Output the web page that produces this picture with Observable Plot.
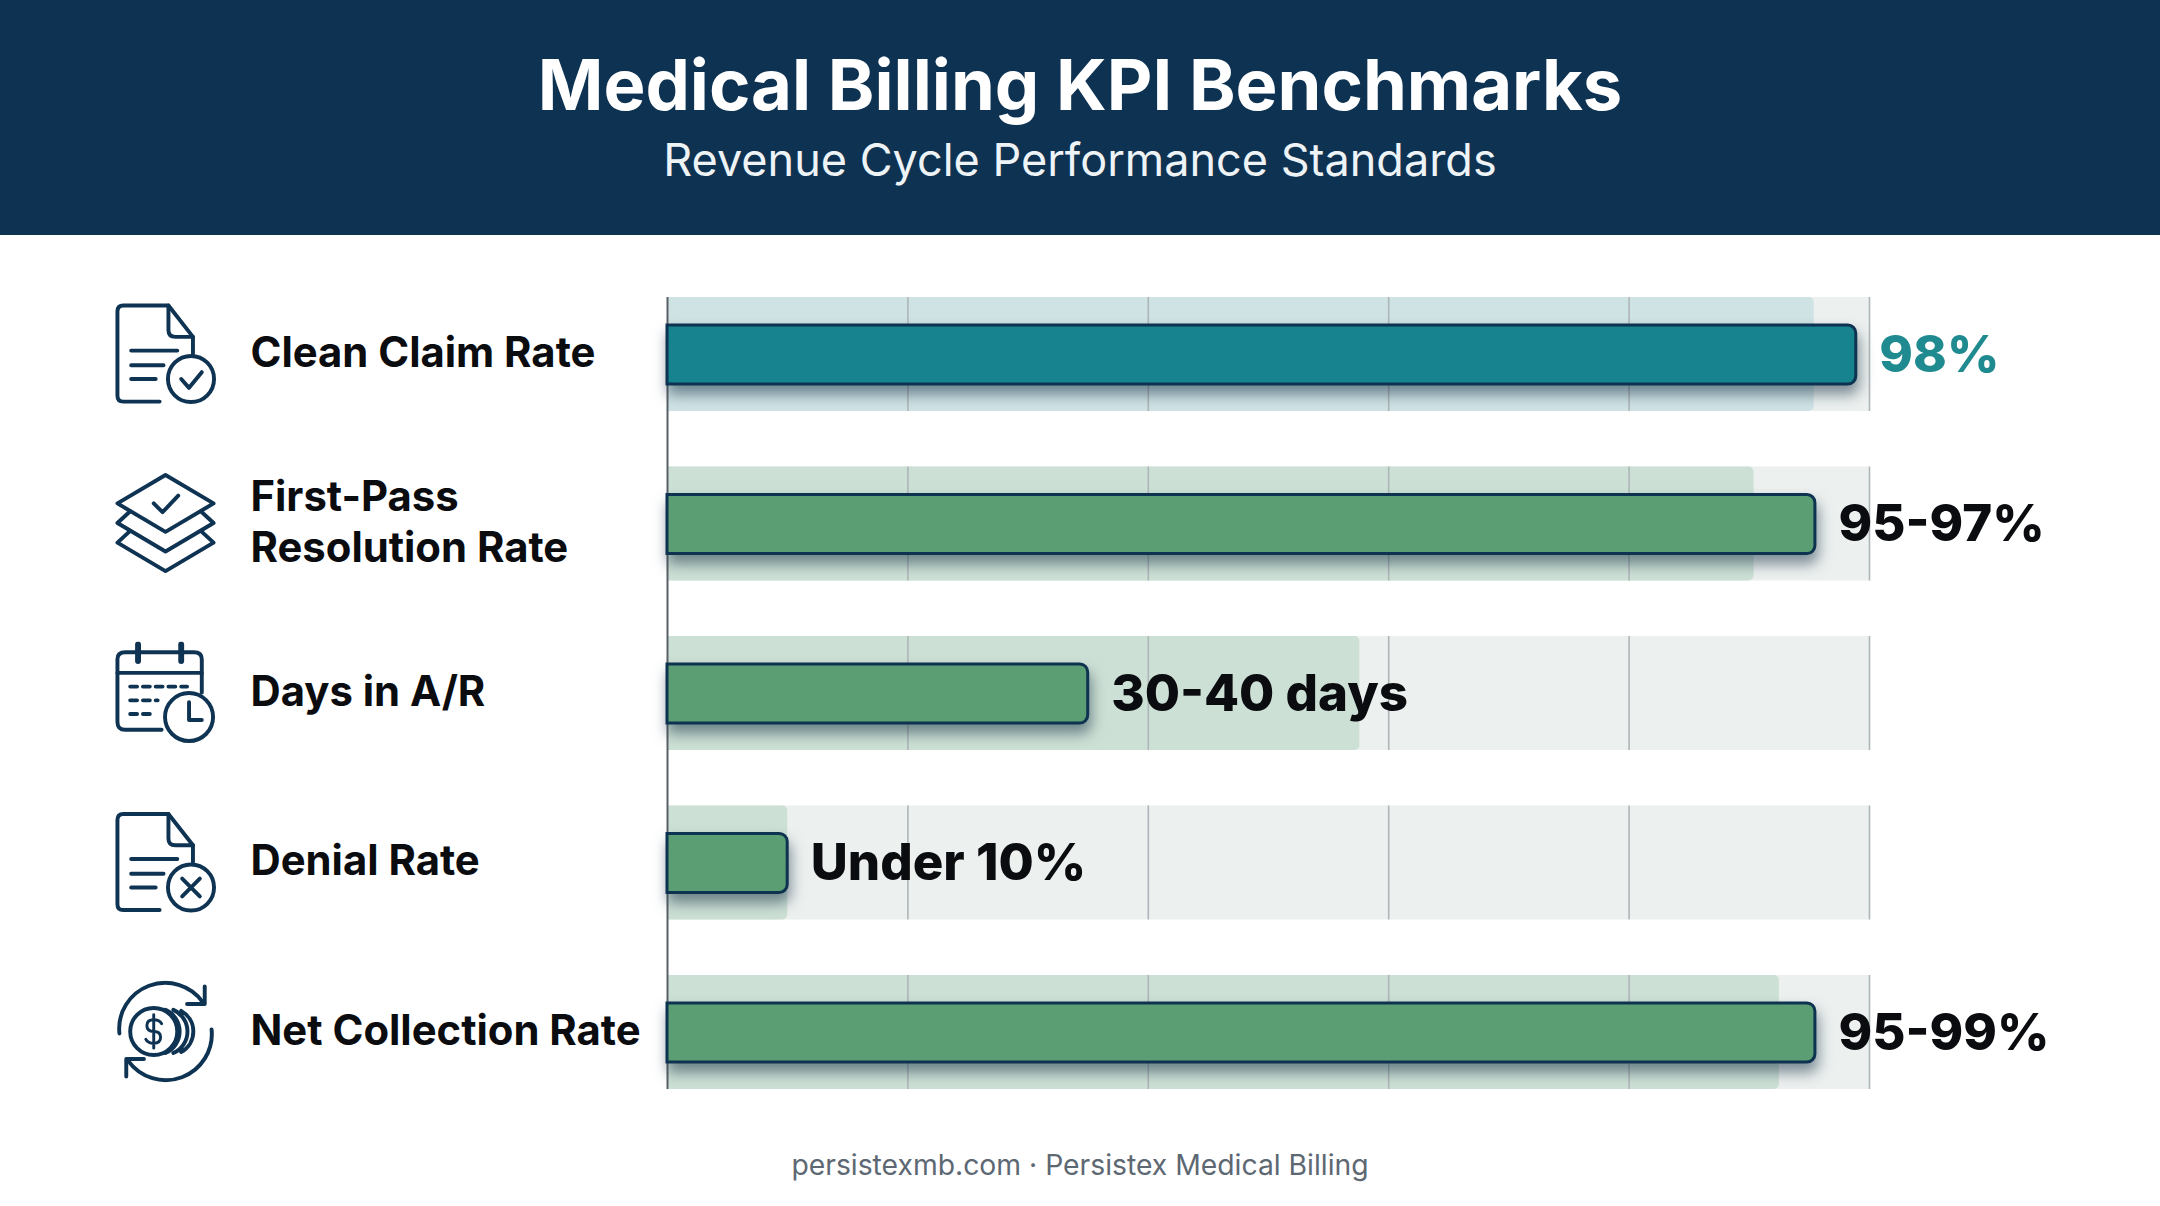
<!DOCTYPE html>
<html>
<head>
<meta charset="utf-8">
<script src="https://cdn.jsdelivr.net/npm/d3@7"></script>
<script src="https://cdn.jsdelivr.net/npm/@observablehq/plot@0.6"></script>
<style>
  html, body { margin: 0; padding: 0; background: #fff; width: 2160px; height: 1206px; overflow: hidden; font-family: Inter, sans-serif; }
  #header { height: 235px; background: #0e3252; color: #fff; text-align: center; position: relative; }
  #title { position: absolute; left: 0; right: 0; top: 42px; font-size: 70.5px; line-height: 86px; font-weight: 700; }
  #subtitle { position: absolute; left: 0; right: 0; top: 131px; font-size: 45px; line-height: 58px; font-weight: 400; color: #eef3f6; }
  #footer { position: absolute; left: 0; right: 0; top: 1146px; text-align: center; font-size: 28.3px; line-height: 38px; color: #5d6873; }
  #chart { position: absolute; left: 0; top: 235px; }
</style>
</head>
<body>
<div id="header">
  <div id="title">Medical Billing KPI Benchmarks</div>
  <div id="subtitle">Revenue Cycle Performance Standards</div>
</div>
<div id="chart"></div>
<div id="footer">persistexmb.com · Persistex Medical Billing</div>
<script>
const kpis = ["Clean Claim Rate", "First-Pass\nResolution Rate", "Days in A/R", "Denial Rate", "Net Collection Rate"];
const barValues = [98.9, 95.5, 35, 10, 95.5];
const bandValues = [95.4, 90.4, 57.6, 10, 92.5];
const valueLabels = ["98%", "95-97%", "30-40 days", "Under 10%", "95-99%"];
const tiers = ["top", "good", "good", "good", "good"];
const ticks = [20, 40, 60, 80, 100];

const barPalette = {top: "#17838e", good: "#5c9e73"};
const tintPalette = {top: "#cfe2e4", good: "#cde0d5"};
const labelPalette = {top: "#1f8a8f", good: "#0a0c0f"};

const docBase = `<path d="M44 99H7Q1 99 1 93V7Q1 1 7 1H53L78 33V50"/><path d="M53 1V26Q53 33 60 33H78"/><path d="M15 47H62M15 62H48M15 76H40"/>`;
const iconBodies = [
  docBase + `<circle cx="76" cy="76" r="23.5"/><path d="M66 76l8 9l13-16"/>`,
  `<path d="M50 1L99 30L50 59L1 30Z"/><path d="M14 38L1 50L50 79L99 50L86 38"/><path d="M14 58L1 70L50 99L99 70L86 58"/><path d="M38 30l9 9l16-17"/>`,
  `<path d="M46 88H9Q1 88 1 80V16Q1 9 9 9H79Q87 9 87 16V50"/><path d="M1 30H87"/><path d="M22 1V18M66 1V18" stroke-width="6"/><path d="M14 44H72M14 58H42M14 72H36" stroke-dasharray="7 6"/><circle cx="74" cy="75" r="24.5"/><path d="M74 60V78H87"/>`,
  docBase + `<circle cx="76" cy="76" r="23.5"/><path d="M67 67l18 18M85 67l-18 18"/>`,
  `<path d="M3 52A47 47 0 0 1 88 20"/><path d="M90 4V22H72"/><path d="M97 48A47 47 0 0 1 12 80"/><path d="M10 96V78H28"/><circle cx="38" cy="50" r="24"/><path d="M50 28A24 24 0 0 1 50 72M58 28A24 24 0 0 1 58 72M66 29A24 24 0 0 1 66 71"/><path d="M46 42Q44 38 38 38Q31 38 31 44Q31 50 38 50Q45 50 45 56Q45 62 38 62Q32 62 30 58M38 33V67" stroke-width="3"/>`
];
const iconSrc = (body) => "data:image/svg+xml;utf8," + encodeURIComponent(
  `<svg xmlns="http://www.w3.org/2000/svg" viewBox="-2 -2 104 104" fill="none" stroke="#0f3352" stroke-width="4" stroke-linecap="round" stroke-linejoin="round">${body}</svg>`);

const rows = kpis.map((kpi, i) => ({
  kpi, bar: barValues[i], band: bandValues[i], label: valueLabels[i], tier: tiers[i], icon: iconSrc(iconBodies[i])
}));
const grid = kpis.flatMap((kpi) => ticks.map((tick) => ({kpi, tick})));
const zero = () => 0;
const full = () => 100;

const chart = Plot.plot({
  width: 2160,
  height: 895,
  marginLeft: 667,
  marginRight: 291,
  marginTop: 62,
  marginBottom: 41,
  x: {domain: [0, 100], axis: null},
  y: {domain: kpis, axis: null, paddingInner: 0.327, paddingOuter: 0, round: false},
  color: {type: "identity"},
  style: {background: "transparent", fontFamily: "Inter, sans-serif", overflow: "visible"},
  marks: [
    Plot.barX(rows, {y: "kpi", x1: zero, x2: full, fill: "#ecf0ef"}),
    Plot.barX(rows, {y: "kpi", x1: zero, x2: "band", fill: (d) => tintPalette[d.tier], rx2: 5}),
    Plot.tickX(grid, {x: "tick", y: "kpi", stroke: "#afb6b9", strokeWidth: 1.6}),
    Plot.ruleX([0], {stroke: "#5a6166", strokeWidth: 2}),
    Plot.barX(rows, {
      y: "kpi", x1: zero, x2: "bar", fill: (d) => barPalette[d.tier], stroke: "#0e3350", strokeWidth: 3,
      insetTop: 28, insetBottom: 27, rx2: 8,
      imageFilter: "drop-shadow(2px 9px 7px rgba(12,40,60,0.5))"
    }),
    Plot.text(rows, {
      y: "kpi", x: "bar", text: "label", fill: (d) => labelPalette[d.tier], dx: 23, dy: 1,
      textAnchor: "start", fontSize: 51, fontWeight: 800
    }),
    Plot.text(rows, {
      y: "kpi", x: zero, text: "kpi", dx: -417, dy: -4, textAnchor: "start",
      fontSize: 41.8, fontWeight: 700, lineHeight: 1.22, fill: "#0a0c0f"
    }),
    Plot.image(rows, {y: "kpi", x: zero, src: "icon", dx: -502, dy: -1, width: 102, height: 102})
  ]
});
document.getElementById("chart").appendChild(chart);
</script>
</body>
</html>
